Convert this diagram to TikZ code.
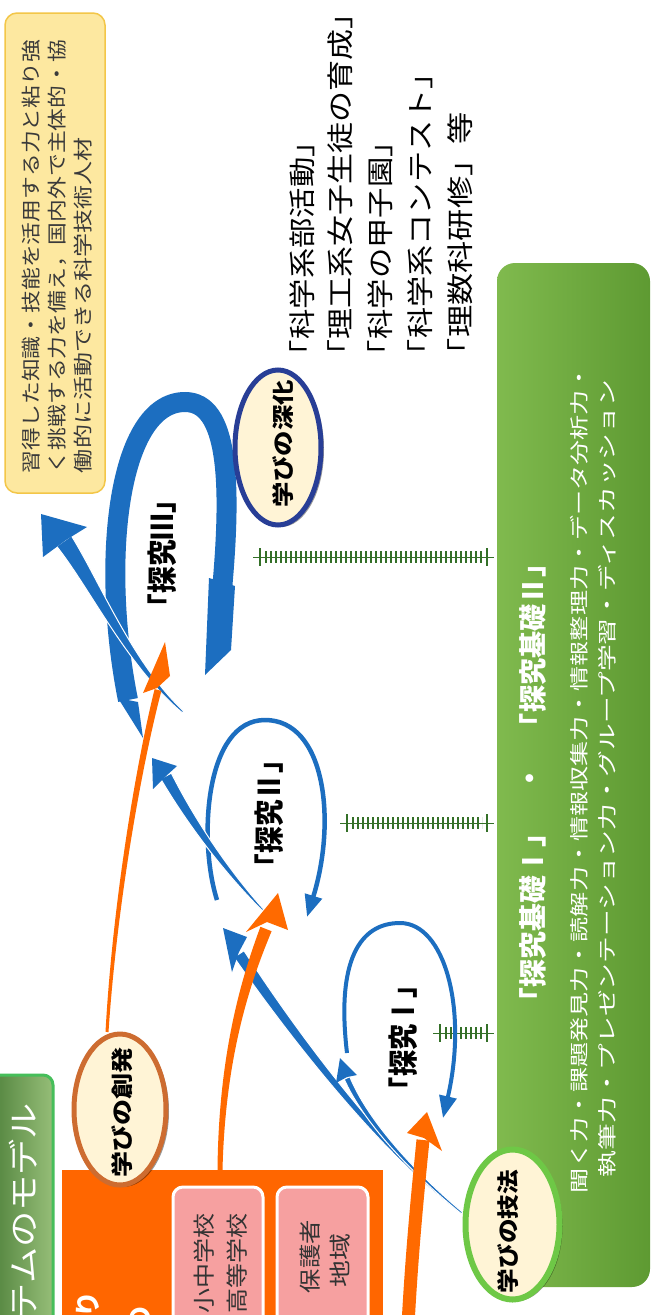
\documentclass[tikz,border=0pt]{standalone}
\usepackage{fontspec}
\usepackage{graphicx}
\usetikzlibrary{shapes.geometric,arrows.meta,shadows}
\newfontfamily\jp{Noto Sans CJK JP}
\newcommand\vtext[2]{\resizebox{#1}{\height}{#2}}
\definecolor{bblue}{RGB}{28,110,192}
\definecolor{orng}{RGB}{255,106,0}
\definecolor{obox}{RGB}{255,102,0}
\definecolor{pinkf}{RGB}{246,160,160}
\definecolor{yfill}{RGB}{253,232,160}
\definecolor{yline}{RGB}{243,198,72}
\definecolor{gl}{RGB}{128,186,78}
\definecolor{gd}{RGB}{94,154,50}
\definecolor{tickg}{RGB}{52,112,40}
\definecolor{cream}{RGB}{255,244,214}
\definecolor{navy}{RGB}{40,62,150}
\definecolor{sobrown}{RGB}{205,108,48}
\definecolor{lgreen}{RGB}{110,200,70}
\definecolor{txtgray}{RGB}{58,58,58}
\definecolor{tdark}{RGB}{80,130,60}
\definecolor{tlight}{RGB}{150,190,120}
\definecolor{tline}{RGB}{70,190,90}
\begin{document}
\begin{tikzpicture}[x=1pt,y=-1pt,
  vt/.style={rotate=90, inner sep=0pt, outer sep=0pt},
  boxnode/.style={inner sep=0pt, outer sep=0pt},
  ell/.style={ellipse, inner sep=0pt, fill=cream, drop shadow={shadow xshift=3pt, shadow yshift=-2pt, opacity=0.4, fill=black}},
  tickline/.style={tickg, line width=12pt, dash pattern=on 2.2pt off 2.8pt, shorten <=12pt, shorten >=12pt},
  tickbase/.style={tickg, line width=1pt},
  tickbar/.style={tickg, line width=2.5pt},
  bluearrow/.style={fill=bblue, draw=white, line width=1pt},
  orangearrow/.style={fill=orng},
  loopline/.style={bblue, line width=4.5pt, -{Triangle[length=22pt,width=17pt]}}
]
\useasboundingbox (0,0) rectangle (651,1315);
\clip (0,0) rectangle (651,1315);
\fill[white] (0,0) rectangle (651,1315);

% yellow box
\node[boxnode, fill=yfill, draw=yline, line width=1.5pt, rounded corners=12pt, minimum width=100pt, minimum height=480pt] (ybox) at (55,253) {};
\begin{scope}[every node/.style={vt, anchor=west, text=txtgray, font=\jp\fontsize{19.5}{22}\selectfont}]
\node (y1) at (31,473) {\vtext{433pt}{習得した知識・技能を活用する力と粘り強}};
\node (y2) at (57,473) {\vtext{433pt}{く挑戦する力を備え，国内外で主体的・協}};
\node (y3) at (83,473) {\vtext{336pt}{働的に活動できる科学技術人材}};
\end{scope}

% list
\begin{scope}[every node/.style={vt, anchor=west, text=black, font=\jp\fontsize{27}{30}\selectfont}]
\node (k1) at (302,370) {\vtext{243pt}{「科学系部活動」}};
\node (k2) at (340,370) {\vtext{372pt}{「理工系女子生徒の育成」}};
\node (k3) at (380,370) {\vtext{243pt}{「科学の甲子園」}};
\node (k4) at (420,370) {\vtext{312pt}{「科学系コンテスト」}};
\node (k5) at (460,370) {\vtext{258pt}{「理数科研修」等}};
\end{scope}

% green box
\node[boxnode, left color=gl, right color=gd, rounded corners=18pt, minimum width=153pt, minimum height=1024pt] (gbox) at (573.5,775) {};
\begin{scope}[every node/.style={vt, text=white}]
\node[anchor=west, font=\jp\bfseries\fontsize{28}{30}\selectfont] (g1a) at (533,1015) {\vtext{195pt}{「探究基礎Ⅰ」}};
\node[font=\jp\bfseries\fontsize{28}{30}\selectfont] (g1d) at (533,778) {・};
\node[anchor=west, font=\jp\bfseries\fontsize{28}{30}\selectfont] (g1b) at (533,740) {\vtext{190pt}{「探究基礎Ⅱ」}};
\node[anchor=west, font=\jp\fontsize{19}{21}\selectfont] (g2) at (579,1193) {\vtext{828pt}{聞く力・課題発見力・読解力・情報収集力・情報整理力・データ分析力・}};
\node[anchor=west, font=\jp\fontsize{19}{21}\selectfont] (g3) at (607,1177) {\vtext{797pt}{執筆力・プレゼンテーション力・グループ学習・ディスカッション}};
\end{scope}

% tick connectors
\coordinate (d1a) at (253,557); \coordinate (d1b) at (494,557);
\coordinate (d2a) at (340,823); \coordinate (d2b) at (494,823);
\coordinate (d3a) at (433,1033); \coordinate (d3b) at (494,1033);
\foreach \p/\q in {d1a/d1b, d2a/d2b, d3a/d3b} {
  \draw[tickbase] (\p) -- (\q);
  \draw[tickline] (\p) -- (\q);
  \draw[tickbar] ([xshift=7pt]\p) ++(0,-9) -- ++(0,18);
  \draw[tickbar] ([xshift=-7pt]\q) ++(0,-9) -- ++(0,18);
}

% loop III
\draw[bblue, line width=20pt] (128,700) .. controls (100,560) and (118,402) .. (185,402) .. controls (228,402) and (232,480) .. (222,590);
\fill[bblue] (118,698) -- (138,702) -- (143,738) -- cycle;
\fill[bblue] (209,578) -- (235,586) -- (231,650) -- (205,675) -- cycle;

% loop II and loop I
\draw[loopline] (217,900) .. controls (198,840) and (205,720) .. (265,720) .. controls (325,720) and (337,820) .. (307,917);
\draw[loopline, line width=4pt] (347,1053) .. controls (336,960) and (360,923) .. (400,923) .. controls (445,923) and (468,1010) .. (443,1118);

% big arrow to yellow box
\path[bluearrow] (71.4,535.8) .. controls (99.9,581.6) and (132.5,663.3) .. (183.7,711.25) -- (182.3,712.75) .. controls (127.5,666.7) and (90.1,588.4) .. (56.6,546.2) -- cycle;
\fill[bblue] (41,514) -- (87,527) -- (66,540) -- (43,557) -- cycle;

% arrow to loop II region
\path[bluearrow] (171.3,773.1) .. controls (193.6,817.4) and (227,868.5) .. (263.7,909.3) -- (262.3,910.7) .. controls (223,871.5) and (186.4,822.6) .. (160.7,778.9) -- cycle;
\fill[bblue] (152,758) -- (177,766) -- (166,776) -- (153,789) -- cycle;

% long arrow from gihou
\path[bluearrow] (244,950.7) .. controls (293.4,1027.1) and (381.9,1148.4) .. (462.6,1212.2) -- (461.4,1213.8) .. controls (378.1,1151.6) and (286.6,1032.9) .. (234,957.3) -- cycle;
\fill[bblue] (223,928) -- (247,937) -- (239,952) -- (232,972) -- cycle;

% arrow to loop I
\path[bluearrow] (349.8,1076.8) .. controls (366.9,1118.4) and (411.1,1169) .. (462.6,1212.2) -- (461.4,1213.8) .. controls (408.9,1171) and (363.1,1121.6) .. (344.2,1079.2) -- cycle;
\fill[bblue] (340,1058) -- (357,1075) -- (347,1077) -- (336,1083) -- cycle;

% loop labels
\begin{scope}[every node/.style={vt, anchor=west, text=black, font=\jp\bfseries\fontsize{30}{32}\selectfont}]
\node (t3) at (162,620) {\vtext{133pt}{「探究Ⅲ」}};
\node (t2) at (269,880) {\vtext{133pt}{「探究Ⅱ」}};
\node (t1) at (403,1103) {\vtext{131pt}{「探究Ⅰ」}};
\end{scope}

% orange box and pink boxes
\node[boxnode, fill=obox, minimum width=321pt, minimum height=160pt] (obx) at (222.5,1250) {};
\node[boxnode, fill=pinkf, draw=white, line width=3pt, rounded corners=10pt, minimum width=90pt, minimum height=148pt] (pk1) at (218,1261) {};
\node[boxnode, fill=pinkf, draw=white, line width=3pt, rounded corners=10pt, minimum width=91pt, minimum height=148pt] (pk2) at (322.5,1261) {};
\begin{scope}[every node/.style={vt, anchor=west, text=black!80, font=\jp\fontsize{22}{24}\selectfont}]
\node (p1) at (204,1313) {\vtext{100pt}{小中学校}};
\node (p2) at (237,1313) {\vtext{100pt}{高等学校}};
\node (p3) at (310,1293) {\vtext{73pt}{保護者}};
\node (p4) at (340,1287) {\vtext{54pt}{地域}};
\end{scope}
\node[vt, anchor=east, text=white, font=\jp\bfseries\fontsize{26}{28}\selectfont] (ow1) at (88,1291) {り};
\node[vt, anchor=east, text=white, font=\jp\bfseries\fontsize{26}{28}\selectfont] (ow2) at (140,1306) {の};

% orange arrows
\path[orangearrow] (108.5,1032.1) .. controls (117.2,900.3) and (142.9,760.6) .. (161.4,690.9) -- (154.6,689.1) .. controls (137.1,759.4) and (112.8,899.7) .. (105.5,1031.9) -- cycle;
\fill[orng] (165,642) -- (170,676) -- (157,688) -- (143,693) -- cycle;
\path[orangearrow] (222.5,1170) .. controls (225.4,1050.6) and (252.8,976.5) .. (271.6,931.2) -- (260.4,926.8) .. controls (243.2,973.5) and (218.6,1049.4) .. (217.5,1170) -- cycle;
\fill[orng] (278,893) -- (288,930) -- (267,922) -- (246,932) -- cycle;
\draw[orng, line width=13pt] (408,1325) .. controls (412,1250) and (418,1190) .. (423,1140);
\fill[orng] (427,1112) -- (442,1151) -- (424,1138) -- (407,1133) -- cycle;

% ellipses
\node[ell, draw=navy, line width=5pt, minimum width=86pt, minimum height=155pt] (shinka) at (278,447.5) {};
\node[vt, anchor=west, font=\jp\bfseries\fontsize{22}{24}\selectfont] (shinkat) at (283,507) {\vtext{127pt}{学びの深化}};
\node[ell, draw=sobrown, line width=5pt, minimum width=92pt, minimum height=151pt] (souhatsu) at (120,1109.5) {};
\node[vt, anchor=west, font=\jp\bfseries\fontsize{22}{24}\selectfont] (souhatsut) at (122,1177) {\vtext{130pt}{学びの創発}};
\node[ell, draw=lgreen, line width=6pt, minimum width=94pt, minimum height=150pt] (gihou) at (512.5,1224.5) {};
\node[vt, anchor=west, font=\jp\bfseries\fontsize{22}{24}\selectfont] (gihout) at (508,1293) {\vtext{123pt}{学びの技法}};

% title box
\node[boxnode, left color=tdark, right color=tlight, draw=tline, line width=3pt, rounded corners=10pt, minimum width=63pt, minimum height=255pt] (title) at (21.5,1202.5) {};
\node[vt, anchor=east, text=white, font=\jp\fontsize{31}{33}\selectfont] (titlet) at (23,1103) {\vtext{216pt}{テムのモデル}};
\end{tikzpicture}
\end{document}
